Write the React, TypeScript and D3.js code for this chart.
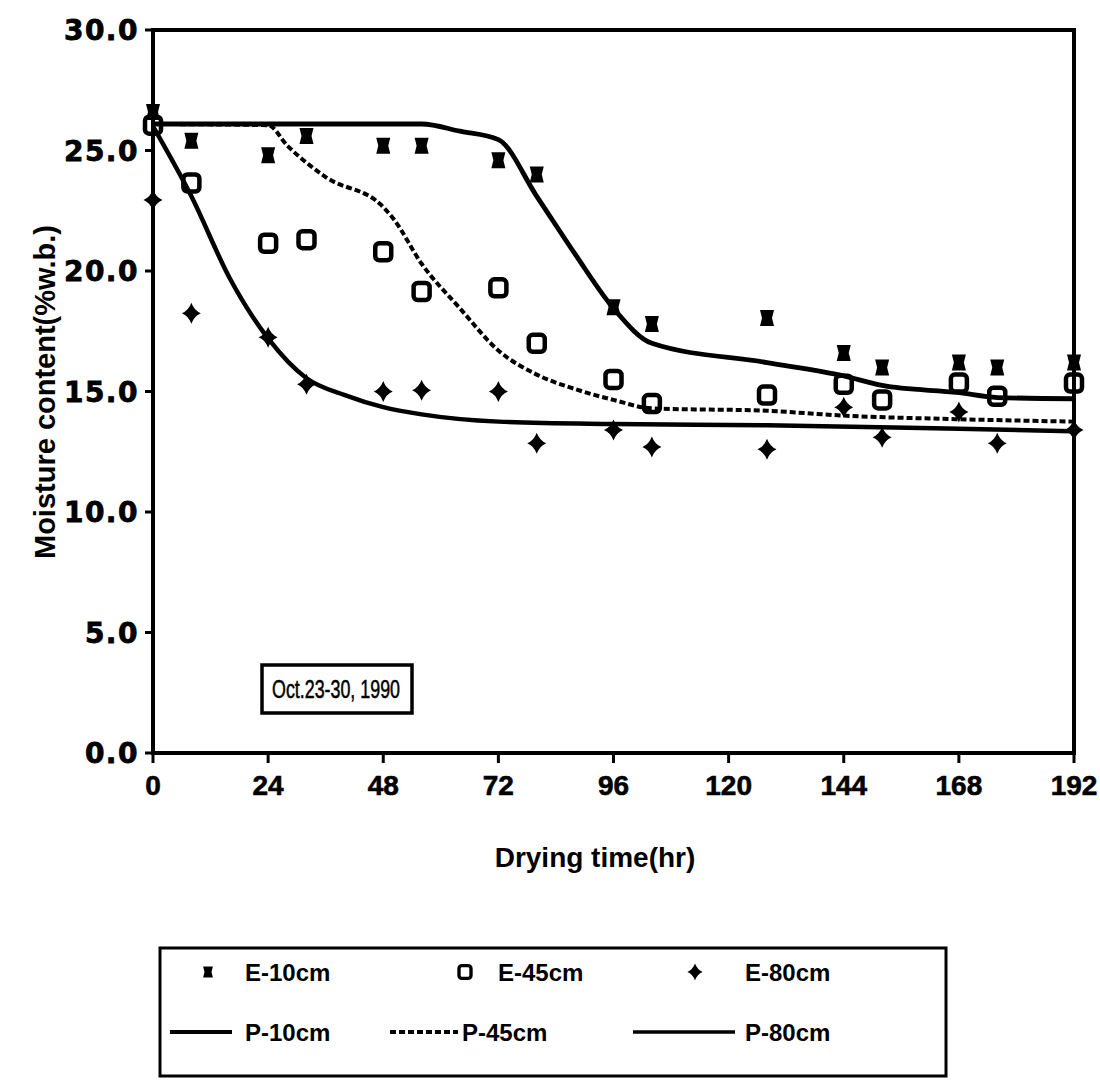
import React from "react";
import * as d3 from "d3";

// ---- data ----
const times = [0, 8, 24, 32, 48, 56, 72, 80, 96, 104, 128, 144, 152, 168, 176, 192];
const e10 = [26.6, 25.4, 24.8, 25.6, 25.2, 25.2, 24.6, 24.0, 18.5, 17.8, 18.05, 16.6, 16.0, 16.2, 16.0, 16.2];
const e45 = [26.05, 23.65, 21.15, 21.3, 20.8, 19.15, 19.3, 17.0, 15.5, 14.5, 14.85, 15.3, 14.65, 15.35, 14.8, 15.35];
const e80 = [22.95, 18.25, 17.25, 15.3, 15.0, 15.05, 15.0, 12.85, 13.4, 12.7, 12.6, 14.35, 13.1, 14.15, 12.85, 13.4];

const p10T = [0, 56, 64, 72, 80, 88, 96, 104, 128, 144, 152, 168, 176, 192];
const p10V = [26.1, 26.1, 25.8, 25.45, 23.1, 20.7, 18.45, 17.0, 16.2, 15.65, 15.25, 14.95, 14.75, 14.7];

const p45T = [0, 24, 28, 36, 48, 50, 56, 64, 72, 80, 88, 96, 104, 128, 144, 168, 192];
const p45V = [26.1, 26.05, 25.2, 23.9, 22.65, 22.2, 20.3, 18.45, 16.7, 15.7, 15.1, 14.65, 14.3, 14.2, 14.0, 13.85, 13.75];

const p80T = [0, 8, 16, 24, 32, 40, 48, 56, 72, 96, 128, 168, 192];
const p80V = [26.0, 23.1, 19.7, 17.2, 15.55, 14.85, 14.35, 14.05, 13.75, 13.65, 13.6, 13.45, 13.35];

const xTicks = [0, 24, 48, 72, 96, 120, 144, 168, 192];
const yTicks = [0, 5, 10, 15, 20, 25, 30];

const xTitle = "Drying time(hr)";
const yTitle = "Moisture content(%w.b.)";
const note = "Oct.23-30, 1990";
const legendE = ["E-10cm", "E-45cm", "E-80cm"];
const legendP = ["P-10cm", "P-45cm", "P-80cm"];

// ---- layout ----
const W = 1100;
const H = 1082;
const X0 = 153, X1 = 1074, Y0 = 753, Y1 = 30;

const x = d3.scaleLinear().domain([0, 192]).range([X0, X1]);
const y = d3.scaleLinear().domain([0, 30]).range([Y0, Y1]);

const lineGen = d3
  .line<[number, number]>()
  .x((d) => x(d[0]))
  .y((d) => y(d[1]))
  .curve(d3.curveMonotoneX);

const zip = (t: number[], v: number[]) => t.map((tt, i) => [tt, v[i]] as [number, number]);

const STAR = "M0,-10.5 Q2.8,-2.8 9.5,0 Q2.8,2.8 0,10.5 Q-2.8,2.8 -9.5,0 Q-2.8,-2.8 0,-10.5Z";
const BOW = "M-7,-8 L7,-8 L5,0 L7,8 L-7,8 L-5,0 Z";

const FONT_BOLD = "'Liberation Sans', Arial, sans-serif";

function E10Mark({ cx, cy, s = 1 }: { cx: number; cy: number; s?: number }) {
  return <path d={BOW} transform={`translate(${cx},${cy}) scale(${s})`} fill="#000" />;
}
function E45Mark({ cx, cy, s = 1 }: { cx: number; cy: number; s?: number }) {
  return (
    <rect
      x={-8}
      y={-8.5}
      width={16}
      height={17}
      rx={4}
      transform={`translate(${cx},${cy}) scale(${s})`}
      fill="none"
      stroke="#000"
      strokeWidth={4.5}
    />
  );
}
function E80Mark({ cx, cy, s = 1 }: { cx: number; cy: number; s?: number }) {
  return <path d={STAR} transform={`translate(${cx},${cy}) scale(${s})`} fill="#000" />;
}

export default function App() {
  const legRow1 = 972;
  const legRow2 = 1032;
  return (
    <svg
      width={W}
      height={H}
      viewBox={`0 0 ${W} ${H}`}
      style={{ position: "absolute", left: 0, top: 0, background: "#fff", display: "block" }}
    >
      <rect x={0} y={0} width={W} height={H} fill="#fff" />

      {/* predicted lines */}
      <path d={lineGen(zip(p10T, p10V)) || ""} fill="none" stroke="#000" strokeWidth={4.8} strokeLinejoin="round" />
      <path
        d={lineGen(zip(p45T, p45V)) || ""}
        fill="none"
        stroke="#000"
        strokeWidth={4}
        strokeDasharray="6 3"
      />
      <path d={lineGen(zip(p80T, p80V)) || ""} fill="none" stroke="#000" strokeWidth={4.5} strokeLinejoin="round" />

      {/* frame */}
      <rect x={X0} y={Y1} width={X1 - X0} height={Y0 - Y1} fill="none" stroke="#000" strokeWidth={4} />

      {/* y ticks */}
      {yTicks.map((t) => (
        <g key={"y" + t}>
          <line x1={X0 - 8} x2={X0} y1={y(t)} y2={y(t)} stroke="#000" strokeWidth={3} />
          <text
            x={139}
            y={y(t)}
            dy="0.36em"
            textAnchor="end"
            fontFamily="'DejaVu Sans', sans-serif"
            fontWeight="bold"
            fontSize={28}
            letterSpacing={1.5}
            stroke="#000"
            strokeWidth={0.8}
          >
            {t.toFixed(1)}
          </text>
        </g>
      ))}

      {/* x ticks */}
      {xTicks.map((t) => (
        <g key={"x" + t}>
          <line x1={x(t)} x2={x(t)} y1={Y0} y2={Y0 + 10} stroke="#000" strokeWidth={3} />
          <text
            x={x(t)}
            y={795}
            textAnchor="middle"
            fontFamily={FONT_BOLD}
            fontWeight="bold"
            fontSize={28}
            stroke="#000"
            strokeWidth={0.6}
          >
            {t}
          </text>
        </g>
      ))}

      {/* axis titles */}
      <text x={595} y={867} textAnchor="middle" fontFamily={FONT_BOLD} fontWeight="bold" fontSize={28}>
        {xTitle}
      </text>
      <text
        transform={`translate(55,392) rotate(-90)`}
        textAnchor="middle"
        fontFamily={FONT_BOLD}
        fontWeight="bold"
        fontSize={29}
      >
        {yTitle}
      </text>

      {/* experimental markers */}
      {times.map((t, i) => (
        <E10Mark key={"a" + i} cx={x(t)} cy={y(e10[i])} />
      ))}
      {times.map((t, i) => (
        <E45Mark key={"b" + i} cx={x(t)} cy={y(e45[i])} />
      ))}
      {times.map((t, i) => (
        <E80Mark key={"c" + i} cx={x(t)} cy={y(e80[i])} />
      ))}

      {/* note box */}
      <rect x={262} y={665} width={150} height={48} fill="#fff" stroke="#000" strokeWidth={3.5} />
      <text
        x={272}
        y={698}
        fontFamily={FONT_BOLD}
        fontSize={25}
        textLength={128}
        lengthAdjust="spacingAndGlyphs"
        stroke="#000"
        strokeWidth={0.5}
      >
        {note}
      </text>

      {/* legend */}
      <rect x={160} y={948} width={786} height={128} fill="#fff" stroke="#000" strokeWidth={3} />
      <E10Mark cx={208} cy={legRow1} s={0.7} />
      <E45Mark cx={465} cy={legRow1} s={0.75} />
      <E80Mark cx={695} cy={legRow1} s={0.8} />
      {legendE.map((s, i) => (
        <text
          key={s}
          x={[245, 498, 745][i]}
          y={legRow1 + 9}
          fontFamily={FONT_BOLD}
          fontWeight="bold"
          fontSize={24}
        >
          {s}
        </text>
      ))}
      <line x1={170} x2={232} y1={legRow2} y2={legRow2} stroke="#000" strokeWidth={4} />
      <line x1={390} x2={458} y1={legRow2} y2={legRow2} stroke="#000" strokeWidth={4} strokeDasharray="6 3" />
      <line x1={633} x2={735} y1={legRow2} y2={legRow2} stroke="#000" strokeWidth={3.5} />
      {legendP.map((s, i) => (
        <text
          key={s}
          x={[245, 462, 745][i]}
          y={legRow2 + 9}
          fontFamily={FONT_BOLD}
          fontWeight="bold"
          fontSize={24}
        >
          {s}
        </text>
      ))}
    </svg>
  );
}
